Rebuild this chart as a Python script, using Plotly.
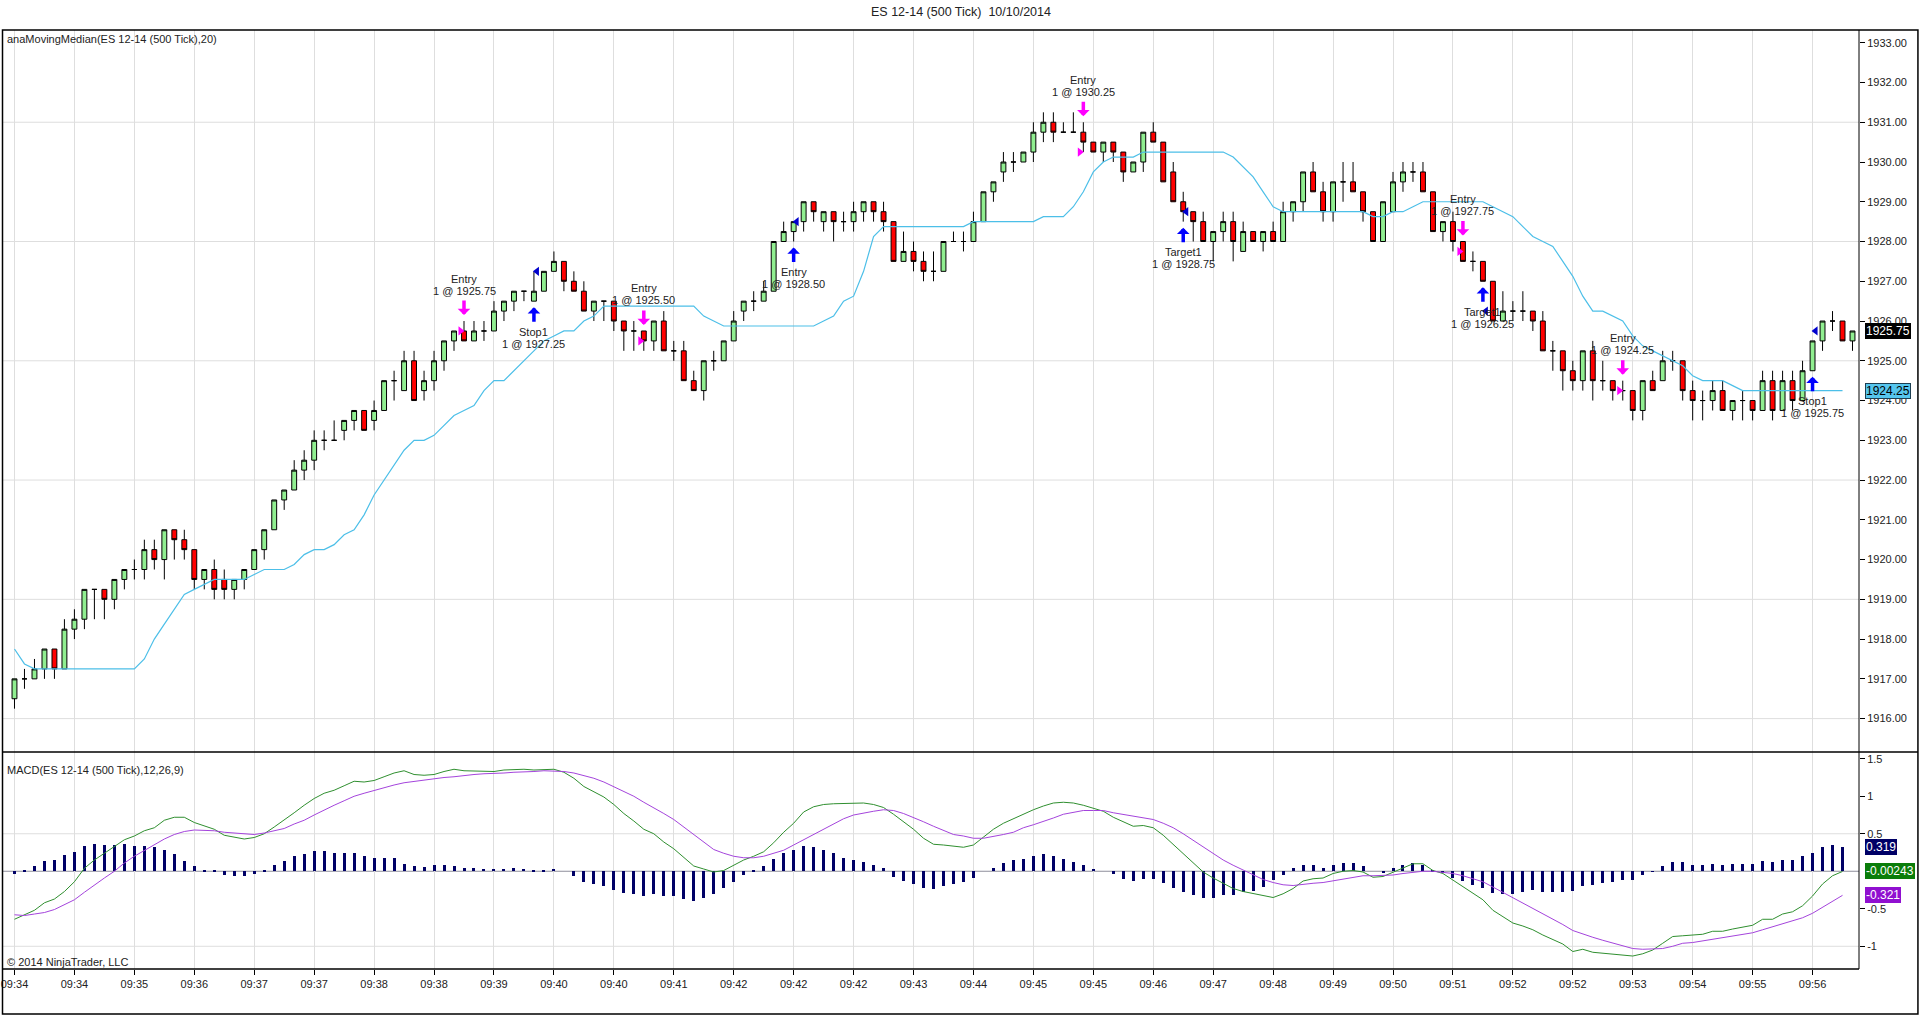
import plotly.graph_objects as go

# ES 12-14 (500 Tick) 10/10/2014 -- one entry per bar
opens = [
    1916.5, 1917.0, 1917.0, 1917.25, 1917.75, 1917.25, 1918.25, 1918.5, 1919.25, 1919.25,
    1919.0, 1919.5, 1919.75, 1919.75, 1920.25, 1920.0, 1920.75, 1920.5, 1920.25, 1919.5,
    1919.75, 1919.5, 1919.25, 1919.5, 1919.75, 1920.25, 1920.75, 1921.5, 1921.75, 1922.25,
    1922.5, 1923.0, 1923.0, 1923.25, 1923.5, 1923.75, 1923.5, 1923.75, 1924.5, 1924.25,
    1925.0, 1924.25, 1924.5, 1925.0, 1925.5, 1925.75, 1925.5, 1925.75, 1925.75, 1926.25,
    1926.5, 1926.75, 1926.5, 1926.75, 1927.25, 1927.5, 1927.0, 1926.75, 1926.25, 1926.5,
    1926.5, 1926.0, 1925.75, 1925.75, 1925.5, 1926.0, 1925.25, 1925.25, 1924.5, 1924.25,
    1925.0, 1925.0, 1925.5, 1926.25, 1926.5, 1926.5, 1926.75, 1928.0, 1928.25, 1928.5,
    1929.0, 1928.5, 1928.75, 1928.5, 1928.5, 1928.75, 1929.0, 1928.75, 1928.5, 1927.5,
    1927.75, 1927.5, 1927.25, 1927.25, 1928.0, 1928.0, 1928.0, 1928.5, 1929.25, 1929.75,
    1930.0, 1930.0, 1930.25, 1930.75, 1931.0, 1930.75, 1930.75, 1930.75, 1930.5, 1930.25,
    1930.5, 1930.25, 1929.75, 1930.0, 1930.75, 1930.5, 1929.75, 1929.0, 1928.75, 1928.5,
    1928.0, 1928.25, 1928.5, 1927.75, 1928.25, 1928.0, 1928.25, 1928.0, 1928.75, 1929.0,
    1929.75, 1929.25, 1928.75, 1929.5, 1929.5, 1929.25, 1928.75, 1928.0, 1928.75, 1929.5,
    1929.75, 1929.75, 1929.25, 1928.25, 1928.5, 1928.0, 1927.5, 1927.5, 1927.0, 1926.0,
    1926.25, 1926.25, 1926.25, 1926.0, 1925.25, 1925.25, 1924.75, 1924.5, 1925.25, 1924.5,
    1924.5, 1924.25, 1924.25, 1923.75, 1924.5, 1924.5, 1925.0, 1925.0, 1924.25, 1924.0,
    1924.0, 1924.25, 1923.75, 1924.0, 1924.0, 1923.75, 1924.5, 1923.75, 1924.5, 1924.0,
    1924.75, 1925.5, 1926.0, 1926.0, 1925.5,
]
highs = [
    1917.0, 1917.25, 1917.5, 1917.75, 1917.75, 1918.5, 1918.75, 1919.25, 1919.25, 1919.25,
    1919.5, 1919.75, 1920.0, 1920.5, 1920.5, 1920.75, 1920.75, 1920.75, 1920.25, 1919.75,
    1920.0, 1919.75, 1919.5, 1919.75, 1920.25, 1920.75, 1921.5, 1921.75, 1922.5, 1922.75,
    1923.25, 1923.25, 1923.5, 1923.5, 1923.75, 1923.75, 1924.0, 1924.5, 1924.75, 1925.25,
    1925.25, 1924.75, 1925.25, 1925.5, 1925.75, 1926.0, 1926.0, 1926.0, 1926.5, 1926.5,
    1926.75, 1926.75, 1927.25, 1927.25, 1927.75, 1927.5, 1927.25, 1927.0, 1926.5, 1926.5,
    1926.5, 1926.0, 1926.0, 1925.75, 1926.0, 1926.25, 1925.5, 1925.5, 1924.75, 1925.0,
    1925.25, 1925.5, 1926.25, 1926.5, 1926.75, 1927.0, 1928.0, 1928.5, 1928.5, 1929.0,
    1929.0, 1928.75, 1928.75, 1928.75, 1929.0, 1929.0, 1929.0, 1929.0, 1928.5, 1928.25,
    1928.0, 1927.75, 1927.75, 1928.0, 1928.25, 1928.25, 1928.75, 1929.25, 1929.5, 1930.25,
    1930.25, 1930.25, 1931.0, 1931.25, 1931.25, 1931.0, 1931.25, 1931.0, 1930.5, 1930.5,
    1930.5, 1930.25, 1930.0, 1930.75, 1931.0, 1930.5, 1930.0, 1929.25, 1928.75, 1928.75,
    1928.25, 1928.75, 1928.75, 1928.5, 1928.25, 1928.25, 1928.5, 1929.0, 1929.0, 1929.75,
    1930.0, 1929.5, 1929.5, 1930.0, 1930.0, 1929.25, 1928.75, 1929.0, 1929.75, 1930.0,
    1930.0, 1930.0, 1929.25, 1928.5, 1928.75, 1928.0, 1927.75, 1927.5, 1927.0, 1926.75,
    1926.5, 1926.75, 1926.25, 1926.25, 1925.5, 1925.25, 1925.0, 1925.25, 1925.5, 1925.0,
    1924.5, 1924.5, 1924.25, 1924.5, 1924.75, 1925.25, 1925.25, 1925.0, 1924.5, 1924.25,
    1924.5, 1924.5, 1924.0, 1924.25, 1924.0, 1924.75, 1924.75, 1924.75, 1924.75, 1925.0,
    1925.5, 1926.0, 1926.25, 1926.0, 1925.75,
]
lows = [
    1916.25, 1916.75, 1917.0, 1917.0, 1917.0, 1917.25, 1918.0, 1918.25, 1918.5, 1918.5,
    1918.75, 1919.25, 1919.5, 1919.5, 1919.75, 1919.5, 1920.0, 1920.0, 1919.25, 1919.25,
    1919.0, 1919.0, 1919.0, 1919.25, 1919.75, 1920.0, 1920.75, 1921.25, 1921.75, 1922.0,
    1922.25, 1922.75, 1923.0, 1923.0, 1923.25, 1923.25, 1923.25, 1923.75, 1924.0, 1924.25,
    1924.0, 1924.0, 1924.25, 1924.75, 1925.25, 1925.5, 1925.5, 1925.5, 1925.75, 1926.0,
    1926.25, 1926.5, 1926.5, 1926.75, 1927.25, 1926.75, 1926.75, 1926.25, 1926.0, 1926.0,
    1925.75, 1925.25, 1925.25, 1925.25, 1925.25, 1925.25, 1925.0, 1924.5, 1924.25, 1924.0,
    1924.75, 1925.0, 1925.5, 1926.0, 1926.25, 1926.5, 1926.75, 1928.0, 1928.0, 1928.25,
    1928.5, 1928.25, 1928.0, 1928.25, 1928.25, 1928.5, 1928.5, 1928.25, 1927.5, 1927.5,
    1927.25, 1927.0, 1927.0, 1927.25, 1928.0, 1927.75, 1928.0, 1928.5, 1929.0, 1929.5,
    1929.75, 1930.0, 1930.0, 1930.5, 1930.5, 1930.75, 1930.75, 1930.25, 1930.25, 1930.0,
    1930.0, 1929.5, 1929.75, 1929.75, 1930.5, 1929.5, 1929.0, 1928.5, 1928.0, 1928.0,
    1927.5, 1928.0, 1927.5, 1927.75, 1928.0, 1927.75, 1928.0, 1928.0, 1928.5, 1928.75,
    1929.25, 1928.5, 1928.5, 1929.0, 1929.25, 1928.5, 1928.0, 1928.0, 1928.75, 1929.25,
    1929.5, 1929.25, 1928.25, 1928.0, 1927.75, 1927.5, 1927.25, 1927.0, 1926.0, 1926.0,
    1926.0, 1926.0, 1925.75, 1925.25, 1924.75, 1924.25, 1924.25, 1924.25, 1924.0, 1924.25,
    1924.0, 1924.0, 1923.5, 1923.5, 1924.25, 1924.5, 1924.75, 1924.0, 1923.5, 1923.5,
    1923.75, 1923.75, 1923.5, 1923.5, 1923.5, 1923.75, 1923.5, 1923.75, 1923.75, 1924.0,
    1924.75, 1925.25, 1925.75, 1925.5, 1925.25,
]
closes = [
    1917.0, 1917.0, 1917.25, 1917.75, 1917.25, 1918.25, 1918.5, 1919.25, 1919.25, 1919.0,
    1919.5, 1919.75, 1919.75, 1920.25, 1920.0, 1920.75, 1920.5, 1920.25, 1919.5, 1919.75,
    1919.25, 1919.25, 1919.5, 1919.75, 1920.25, 1920.75, 1921.5, 1921.75, 1922.25, 1922.5,
    1923.0, 1923.0, 1923.0, 1923.5, 1923.75, 1923.25, 1923.75, 1924.5, 1924.5, 1925.0,
    1924.0, 1924.5, 1925.0, 1925.5, 1925.75, 1925.5, 1925.75, 1925.75, 1926.25, 1926.5,
    1926.75, 1926.75, 1926.75, 1927.25, 1927.5, 1927.0, 1926.75, 1926.25, 1926.5, 1926.5,
    1926.0, 1925.75, 1925.75, 1925.5, 1926.0, 1925.25, 1925.25, 1924.5, 1924.25, 1925.0,
    1925.0, 1925.5, 1926.0, 1926.5, 1926.5, 1926.75, 1928.0, 1928.25, 1928.5, 1929.0,
    1928.75, 1928.75, 1928.5, 1928.5, 1928.75, 1929.0, 1928.75, 1928.5, 1927.5, 1927.75,
    1927.5, 1927.25, 1927.25, 1928.0, 1928.0, 1928.0, 1928.5, 1929.25, 1929.5, 1930.0,
    1930.0, 1930.25, 1930.75, 1931.0, 1930.75, 1930.75, 1930.75, 1930.5, 1930.25, 1930.5,
    1930.25, 1929.75, 1930.0, 1930.75, 1930.5, 1929.5, 1929.0, 1928.75, 1928.5, 1928.0,
    1928.25, 1928.5, 1928.0, 1928.25, 1928.0, 1928.25, 1928.0, 1928.75, 1929.0, 1929.75,
    1929.25, 1928.75, 1929.5, 1929.5, 1929.25, 1928.75, 1928.0, 1929.0, 1929.5, 1929.75,
    1929.75, 1929.25, 1928.25, 1928.5, 1928.0, 1927.5, 1927.5, 1927.0, 1926.0, 1926.25,
    1926.25, 1926.25, 1926.0, 1925.25, 1925.25, 1924.75, 1924.5, 1925.25, 1924.5, 1924.5,
    1924.25, 1924.25, 1923.75, 1924.5, 1924.25, 1925.0, 1925.0, 1924.25, 1924.0, 1924.0,
    1924.25, 1923.75, 1924.0, 1924.0, 1923.75, 1924.5, 1923.75, 1924.5, 1924.0, 1924.75,
    1925.5, 1926.0, 1926.0, 1925.5, 1925.75,
]

# anaMovingMedian(20), not plotted on the last (open) bar
median20 = [
    1917.75, 1917.375, 1917.25, 1917.25, 1917.25, 1917.25, 1917.25, 1917.25, 1917.25, 1917.25,
    1917.25, 1917.25, 1917.25, 1917.5, 1918.0, 1918.375, 1918.75, 1919.125, 1919.25, 1919.375,
    1919.5, 1919.5, 1919.5, 1919.5, 1919.625, 1919.75, 1919.75, 1919.75, 1919.875, 1920.125,
    1920.25, 1920.25, 1920.375, 1920.625, 1920.75, 1921.125, 1921.625, 1922.0, 1922.375, 1922.75,
    1923.0, 1923.0, 1923.125, 1923.375, 1923.625, 1923.75, 1923.875, 1924.25, 1924.5, 1924.5,
    1924.75, 1925.0, 1925.25, 1925.5, 1925.625, 1925.75, 1925.75, 1926.0, 1926.125, 1926.375,
    1926.375, 1926.375, 1926.375, 1926.375, 1926.375, 1926.375, 1926.375, 1926.375, 1926.375, 1926.125,
    1926.0, 1925.875, 1925.875, 1925.875, 1925.875, 1925.875, 1925.875, 1925.875, 1925.875, 1925.875,
    1925.875, 1926.0, 1926.125, 1926.5, 1926.625, 1927.25, 1928.125, 1928.375, 1928.375, 1928.375,
    1928.375, 1928.375, 1928.375, 1928.375, 1928.375, 1928.375, 1928.5, 1928.5, 1928.5, 1928.5,
    1928.5, 1928.5, 1928.5, 1928.625, 1928.625, 1928.625, 1928.875, 1929.25, 1929.75, 1930.0,
    1930.125, 1930.125, 1930.125, 1930.25, 1930.25, 1930.25, 1930.25, 1930.25, 1930.25, 1930.25,
    1930.25, 1930.25, 1930.125, 1929.875, 1929.625, 1929.25, 1928.875, 1928.75, 1928.75, 1928.75,
    1928.75, 1928.75, 1928.75, 1928.75, 1928.75, 1928.75, 1928.625, 1928.625, 1928.75, 1928.75,
    1928.875, 1929.0, 1929.0, 1929.0, 1929.0, 1929.0, 1929.0, 1929.0, 1928.875, 1928.75,
    1928.625, 1928.375, 1928.125, 1928.0, 1927.875, 1927.5, 1927.125, 1926.625, 1926.25, 1926.25,
    1926.125, 1926.0, 1925.625, 1925.375, 1925.25, 1925.125, 1925.0, 1924.875, 1924.625, 1924.5,
    1924.5, 1924.5, 1924.375, 1924.25, 1924.25, 1924.25, 1924.25, 1924.25, 1924.25, 1924.25,
    1924.25, 1924.25, 1924.25, 1924.25,
]

# MACD(12,26,9)
macd = [
    -0.64, -0.58, -0.52, -0.42, -0.37, -0.27, -0.14, 0.04, 0.15, 0.24,
    0.33, 0.42, 0.47, 0.54, 0.58, 0.68, 0.72, 0.72, 0.65, 0.60,
    0.56, 0.48, 0.45, 0.43, 0.45, 0.50, 0.59, 0.68, 0.78, 0.88,
    0.97, 1.04, 1.08, 1.14, 1.20, 1.19, 1.21, 1.26, 1.31, 1.34,
    1.29, 1.28, 1.29, 1.33, 1.36, 1.34, 1.34, 1.33, 1.33, 1.35,
    1.36, 1.36, 1.35, 1.35, 1.36, 1.32, 1.24, 1.13, 1.06, 0.99,
    0.89, 0.77, 0.67, 0.56, 0.50, 0.39, 0.30, 0.18, 0.07, 0.03,
    -0.01, 0.01, 0.08, 0.15, 0.20, 0.26, 0.38, 0.52, 0.64, 0.79,
    0.86, 0.89, 0.90, 0.90, 0.90, 0.91, 0.89, 0.85, 0.76, 0.66,
    0.56, 0.44, 0.36, 0.35, 0.33, 0.32, 0.35, 0.46, 0.56, 0.64,
    0.70, 0.77, 0.82, 0.87, 0.91, 0.92, 0.91, 0.88, 0.84, 0.80,
    0.72, 0.66, 0.60, 0.61, 0.58, 0.48, 0.36, 0.24, 0.12, -0.01,
    -0.09, -0.16, -0.23, -0.27, -0.30, -0.32, -0.35, -0.30, -0.23, -0.13,
    -0.10, -0.09, -0.03, 0.0, 0.01, -0.01, -0.08, -0.07, -0.01, 0.05,
    0.10, 0.10, 0.01, -0.03, -0.12, -0.21, -0.29, -0.38, -0.52, -0.61,
    -0.69, -0.73, -0.78, -0.85, -0.91, -0.97, -1.07, -1.04, -1.08, -1.09,
    -1.10, -1.11, -1.13, -1.10, -1.05, -0.96, -0.87, -0.86, -0.85, -0.84,
    -0.80, -0.80, -0.77, -0.74, -0.72, -0.64, -0.64, -0.57, -0.54, -0.46,
    -0.33, -0.17, -0.06, -0.00243,
]
macd_avg = [
    -0.58, -0.59, -0.57, -0.55, -0.51, -0.45, -0.38, -0.28, -0.18, -0.09,
    0.0, 0.11, 0.20, 0.28, 0.35, 0.43, 0.49, 0.53, 0.55, 0.55,
    0.54, 0.52, 0.51, 0.49, 0.49, 0.51, 0.54, 0.57, 0.63, 0.68,
    0.75, 0.82, 0.88, 0.94, 1.0, 1.04, 1.08, 1.12, 1.15, 1.18,
    1.20, 1.22, 1.23, 1.25, 1.26, 1.28, 1.29, 1.30, 1.30, 1.31,
    1.32, 1.32, 1.33, 1.34, 1.34, 1.33, 1.31, 1.28, 1.24, 1.19,
    1.13, 1.07, 1.0, 0.92, 0.85, 0.77, 0.69, 0.59, 0.48, 0.38,
    0.29, 0.24, 0.20, 0.18, 0.18, 0.20, 0.24, 0.28, 0.35, 0.42,
    0.50, 0.57, 0.64, 0.70, 0.75, 0.78, 0.80, 0.82, 0.81, 0.77,
    0.72, 0.66, 0.60, 0.55, 0.49, 0.47, 0.44, 0.44, 0.46, 0.49,
    0.52, 0.58, 0.62, 0.66, 0.71, 0.76, 0.78, 0.81, 0.81, 0.81,
    0.78, 0.76, 0.73, 0.71, 0.69, 0.64, 0.58, 0.50, 0.41, 0.32,
    0.24, 0.15, 0.08, 0.02, -0.04, -0.11, -0.15, -0.18, -0.19, -0.17,
    -0.16, -0.15, -0.13, -0.10, -0.08, -0.06, -0.06, -0.06, -0.05, -0.03,
    -0.01, 0.0, 0.0, -0.01, -0.03, -0.06, -0.10, -0.14, -0.21, -0.28,
    -0.36, -0.43, -0.50, -0.56, -0.63, -0.71, -0.79, -0.84, -0.88, -0.92,
    -0.96, -0.99, -1.03, -1.04, -1.04, -1.03, -1.0, -0.96, -0.95, -0.93,
    -0.90, -0.88, -0.87, -0.84, -0.82, -0.78, -0.74, -0.70, -0.67, -0.62,
    -0.56, -0.48, -0.40, -0.321,
]
macd_diff = [
    -0.03, 0.01, 0.07, 0.14, 0.15, 0.22, 0.26, 0.34, 0.36, 0.35,
    0.35, 0.36, 0.34, 0.34, 0.32, 0.28, 0.23, 0.14, 0.07, 0.02,
    0.01, -0.05, -0.06, -0.06, -0.04, 0.01, 0.08, 0.14, 0.20, 0.23,
    0.27, 0.27, 0.25, 0.25, 0.25, 0.20, 0.18, 0.18, 0.18, 0.10,
    0.07, 0.06, 0.08, 0.08, 0.07, 0.05, 0.04, 0.03, 0.03, 0.03,
    0.04, 0.03, 0.01, 0.01, 0.03, 0.0, -0.06, -0.14, -0.17, -0.20,
    -0.25, -0.29, -0.30, -0.33, -0.30, -0.33, -0.33, -0.37, -0.40, -0.36,
    -0.30, -0.22, -0.14, -0.05, 0.01, 0.07, 0.17, 0.24, 0.29, 0.34,
    0.32, 0.29, 0.24, 0.18, 0.15, 0.13, 0.09, 0.04, -0.08, -0.13,
    -0.17, -0.22, -0.24, -0.20, -0.17, -0.14, -0.09, 0.0, 0.05, 0.11,
    0.15, 0.17, 0.20, 0.23, 0.20, 0.17, 0.13, 0.08, 0.03, 0.0,
    -0.04, -0.10, -0.13, -0.10, -0.10, -0.16, -0.22, -0.28, -0.31, -0.36,
    -0.36, -0.31, -0.31, -0.28, -0.26, -0.21, -0.12, -0.05, 0.05, 0.08,
    0.08, 0.05, 0.09, 0.11, 0.11, 0.07, 0.0, -0.01, 0.04, 0.08,
    0.11, 0.08, 0.01, -0.02, -0.09, -0.13, -0.18, -0.22, -0.29, -0.30,
    -0.30, -0.28, -0.25, -0.28, -0.28, -0.28, -0.26, -0.20, -0.18, -0.15,
    -0.14, -0.12, -0.12, -0.05, -0.005, 0.07, 0.12, 0.12, 0.09, 0.08,
    0.10, 0.08, 0.10, 0.10, 0.10, 0.14, 0.12, 0.15, 0.15, 0.20,
    0.25, 0.33, 0.35, 0.319,
]

# time labels shown every 6 bars
tick_text = ["09:34", "09:34", "09:35", "09:36", "09:37", "09:37", "09:38", "09:38",
             "09:39", "09:40", "09:40", "09:41", "09:42", "09:42", "09:42", "09:43",
             "09:44", "09:45", "09:45", "09:46", "09:47", "09:48", "09:49", "09:50",
             "09:51", "09:52", "09:52", "09:53", "09:54", "09:55", "09:56"]

# strategy executions
exec_bars = [45, 52, 63, 78, 107, 117, 145, 147, 161, 180]
exec_names = ["Entry", "Stop1", "Entry", "Entry", "Entry", "Target1", "Entry", "Target1", "Entry", "Stop1"]
exec_prices = [1925.75, 1927.25, 1925.50, 1928.50, 1930.25, 1928.75, 1927.75, 1926.25, 1924.25, 1925.75]
exec_sides = ["sell", "buy", "sell", "buy", "sell", "buy", "sell", "buy", "sell", "buy"]

assert len(opens) == len(highs) == len(lows) == len(closes) == 185
assert len(median20) == len(macd) == len(macd_avg) == len(macd_diff) == 184

bars = list(range(len(opens)))
ind_bars = bars[:len(median20)]
tick_bars = list(range(0, 6 * len(tick_text), 6))

# ---- page geometry (pixels) ----
W, H = 1920, 1015
ML, MR, MT, MB = 1, 61, 30, 46
PW, PH = W - ML - MR, H - MT - MB


def px_x(px):
    return (px - ML) / PW


def px_y(py):
    return (H - MB - py) / PH


SPLIT = px_y(752)
XR = [-1.15, 184.65]
YR = [1915.16, 1933.32]
Y2R = [-1.303, 1.59]
GRID = "#dedede"
FONT = "Liberation Sans, Arial, sans-serif"
GREEN_UP, RED_DN = "#90ee90", "#ff0000"
MEDIAN_C = "#4cbfe8"
MACD_C, AVG_C, DIFF_C = "#2f8f2f", "#a444dc", "#000066"
MAGENTA, BLUE = "#ff00ff", "#0000ff"
TAG_X = 185.1

fig = go.Figure()

fig.add_trace(go.Candlestick(
    x=bars, open=opens, high=highs, low=lows, close=closes,
    increasing=dict(fillcolor=GREEN_UP, line=dict(color="black", width=1)),
    decreasing=dict(fillcolor=RED_DN, line=dict(color="black", width=1)),
    whiskerwidth=0, hoverinfo="skip", xaxis="x", yaxis="y"))

fig.add_trace(go.Scatter(x=ind_bars, y=median20, mode="lines",
                         line=dict(color=MEDIAN_C, width=1.2), xaxis="x", yaxis="y"))

# execution triangles
for side, sym, col, dx in [("sell", "triangle-right", MAGENTA, -0.35), ("buy", "triangle-left", "#0000cc", 0.3)]:
    xs = [b + dx for b, s in zip(exec_bars, exec_sides) if s == side]
    ys = [p for p, s in zip(exec_prices, exec_sides) if s == side]
    fig.add_trace(go.Scatter(x=xs, y=ys, mode="markers",
                             marker=dict(symbol=sym, size=8, color=col, line=dict(width=0)),
                             xaxis="x", yaxis="y"))

fig.add_trace(go.Bar(x=ind_bars, y=macd_diff, width=0.3,
                     marker=dict(color=DIFF_C, line=dict(width=0)), xaxis="x2", yaxis="y2"))
fig.add_trace(go.Scatter(x=ind_bars, y=macd, mode="lines",
                         line=dict(color=MACD_C, width=1), xaxis="x2", yaxis="y2"))
fig.add_trace(go.Scatter(x=ind_bars, y=macd_avg, mode="lines",
                         line=dict(color=AVG_C, width=1), xaxis="x2", yaxis="y2"))

# right-hand value tags
price_tags = [(closes[-1], "black", "white", "black"), (median20[-1], "#56c6ee", "black", "#1d3f52")]
macd_tags = [(macd_diff[-1], DIFF_C, "white", DIFF_C), (macd[-1], "#0a7d0a", "white", "#0a7d0a"),
             (macd_avg[-1], "#9010d0", "white", "#9010d0")]

fig.add_trace(go.Scatter(x=[TAG_X] * len(price_tags), y=[t[0] for t in price_tags], mode="markers",
                         marker=dict(symbol="triangle-left", size=13, color=[t[1] for t in price_tags],
                                     line=dict(width=1, color=[t[3] for t in price_tags])),
                         cliponaxis=False, xaxis="x", yaxis="y"))
fig.add_trace(go.Scatter(x=[TAG_X] * len(macd_tags), y=[t[0] for t in macd_tags], mode="markers",
                         marker=dict(symbol="triangle-left", size=13, color=[t[1] for t in macd_tags],
                                     line=dict(width=0)),
                         cliponaxis=False, xaxis="x2", yaxis="y2"))

annotations = []
for v, bg, fg, bc in price_tags:
    annotations.append(dict(xref="paper", yref="y", x=px_x(1865), y=v, xanchor="left", yanchor="middle",
                            text=f"{v:.2f}", showarrow=False, bgcolor=bg, bordercolor=bc, borderwidth=1,
                            borderpad=0, font=dict(color=fg, size=12)))
for v, bg, fg, bc in macd_tags:
    annotations.append(dict(xref="paper", yref="y2", x=px_x(1865), y=v, xanchor="left", yanchor="middle",
                            text=f"{v:.3g}", showarrow=False, bgcolor=bg, bordercolor=bc, borderwidth=1,
                            borderpad=0, font=dict(color=fg, size=12)))

# execution arrows and labels
for b, name, price, side in zip(exec_bars, exec_names, exec_prices, exec_sides):
    if side == "sell":
        y0, sgn, col = highs[b], 1, MAGENTA
    else:
        y0, sgn, col = lows[b], -1, BLUE
    annotations.append(dict(x=b, y=y0, xref="x", yref="y", text="", showarrow=True,
                            ax=0, ay=-sgn * 16, yshift=sgn * 6, arrowhead=1, arrowsize=0.6,
                            arrowwidth=3.5, arrowcolor=col))
    annotations.append(dict(x=b, y=y0, xref="x", yref="y", text=name, showarrow=False,
                            yshift=sgn * 36.5 + 6, font=dict(size=11, color="#222")))
    annotations.append(dict(x=b, y=y0, xref="x", yref="y", text=f"1 @ {price:.2f}", showarrow=False,
                            yshift=sgn * 36.5 - 6, font=dict(size=11, color="#222")))

# panel captions
annotations += [
    dict(xref="paper", yref="paper", x=px_x(960), y=px_y(12), text="ES 12-14 (500 Tick) \u00a010/10/2014",
         showarrow=False, xanchor="center", yanchor="middle", font=dict(size=12.5, color="#222")),
    dict(xref="paper", yref="paper", x=px_x(3), y=px_y(39), text="anaMovingMedian(ES 12-14 (500 Tick),20)",
         showarrow=False, xanchor="left", yanchor="middle", font=dict(size=11, color="#222")),
    dict(xref="paper", yref="paper", x=px_x(3), y=px_y(770), text="MACD(ES 12-14 (500 Tick),12,26,9)",
         showarrow=False, xanchor="left", yanchor="middle", font=dict(size=11, color="#222")),
    dict(xref="paper", yref="paper", x=px_x(3), y=px_y(962), text="\u00a9 2014 NinjaTrader, LLC",
         showarrow=False, xanchor="left", yanchor="middle", font=dict(size=11, color="#222")),
]

shapes = []
for lvl in range(1916, 1934, 3):
    shapes.append(dict(type="line", xref="x", yref="y", x0=XR[0], x1=XR[1], y0=lvl, y1=lvl,
                       line=dict(color=GRID, width=1), layer="below"))
for lvl in (0.5, -1.0):
    shapes.append(dict(type="line", xref="x2", yref="y2", x0=XR[0], x1=XR[1], y0=lvl, y1=lvl,
                       line=dict(color=GRID, width=1), layer="below"))
shapes.append(dict(type="line", xref="x2", yref="y2", x0=XR[0], x1=XR[1], y0=0, y1=0,
                   line=dict(color="#8e8e9c", width=1), layer="below"))
frame = dict(color="black", width=1.5)
shapes += [
    dict(type="rect", xref="paper", yref="paper", x0=px_x(0.5), x1=px_x(1918), y0=px_y(1014), y1=px_y(30),
         line=frame),
    dict(type="line", xref="paper", yref="paper", x0=px_x(0), x1=px_x(1918), y0=SPLIT, y1=SPLIT, line=frame),
    dict(type="line", xref="paper", yref="paper", x0=px_x(0), x1=1, y0=0, y1=0, line=frame),
    dict(type="line", xref="paper", yref="paper", x0=1, x1=1, y0=0, y1=1, line=dict(color="black", width=1)),
]

axis_font = dict(size=11, color="#222")
fig.update_layout(
    width=W, height=H, autosize=False,
    margin=dict(l=ML, r=MR, t=MT, b=MB, pad=0),
    paper_bgcolor="white", plot_bgcolor="white",
    showlegend=False, hovermode=False,
    font=dict(family=FONT, size=11, color="#222"),
    xaxis=dict(domain=[0, 1], anchor="y", range=XR, tickvals=tick_bars, showticklabels=False,
               ticks="", showgrid=True, gridcolor=GRID, gridwidth=1, zeroline=False, showline=False,
               rangeslider=dict(visible=False)),
    xaxis2=dict(domain=[0, 1], anchor="y2", range=XR, matches="x", tickvals=tick_bars, ticktext=tick_text,
                ticks="outside", ticklen=5, tickcolor="black", tickfont=axis_font, ticklabeloverflow="allow",
                showgrid=True, gridcolor=GRID, gridwidth=1, zeroline=False, showline=False),
    yaxis=dict(domain=[SPLIT, 1], anchor="x", side="right", range=YR, tick0=1916, dtick=1,
               tickformat=".2f", ticks="outside", ticklen=5, tickcolor="black", tickfont=axis_font,
               showgrid=False, zeroline=False, showline=False),
    yaxis2=dict(domain=[0, SPLIT], anchor="x2", side="right", range=Y2R,
                tickvals=[-1, -0.5, 0.5, 1, 1.5], ticktext=["-1", "-0.5", "0.5", "1", "1.5"],
                ticks="outside", ticklen=5, tickcolor="black", tickfont=axis_font,
                showgrid=False, zeroline=False, showline=False),
    bargap=0,
    annotations=annotations,
    shapes=shapes,
)

fig.write_html("out.html", config={"displayModeBar": False},
               post_script="document.body.style.margin='0';document.body.style.overflow='hidden';")
